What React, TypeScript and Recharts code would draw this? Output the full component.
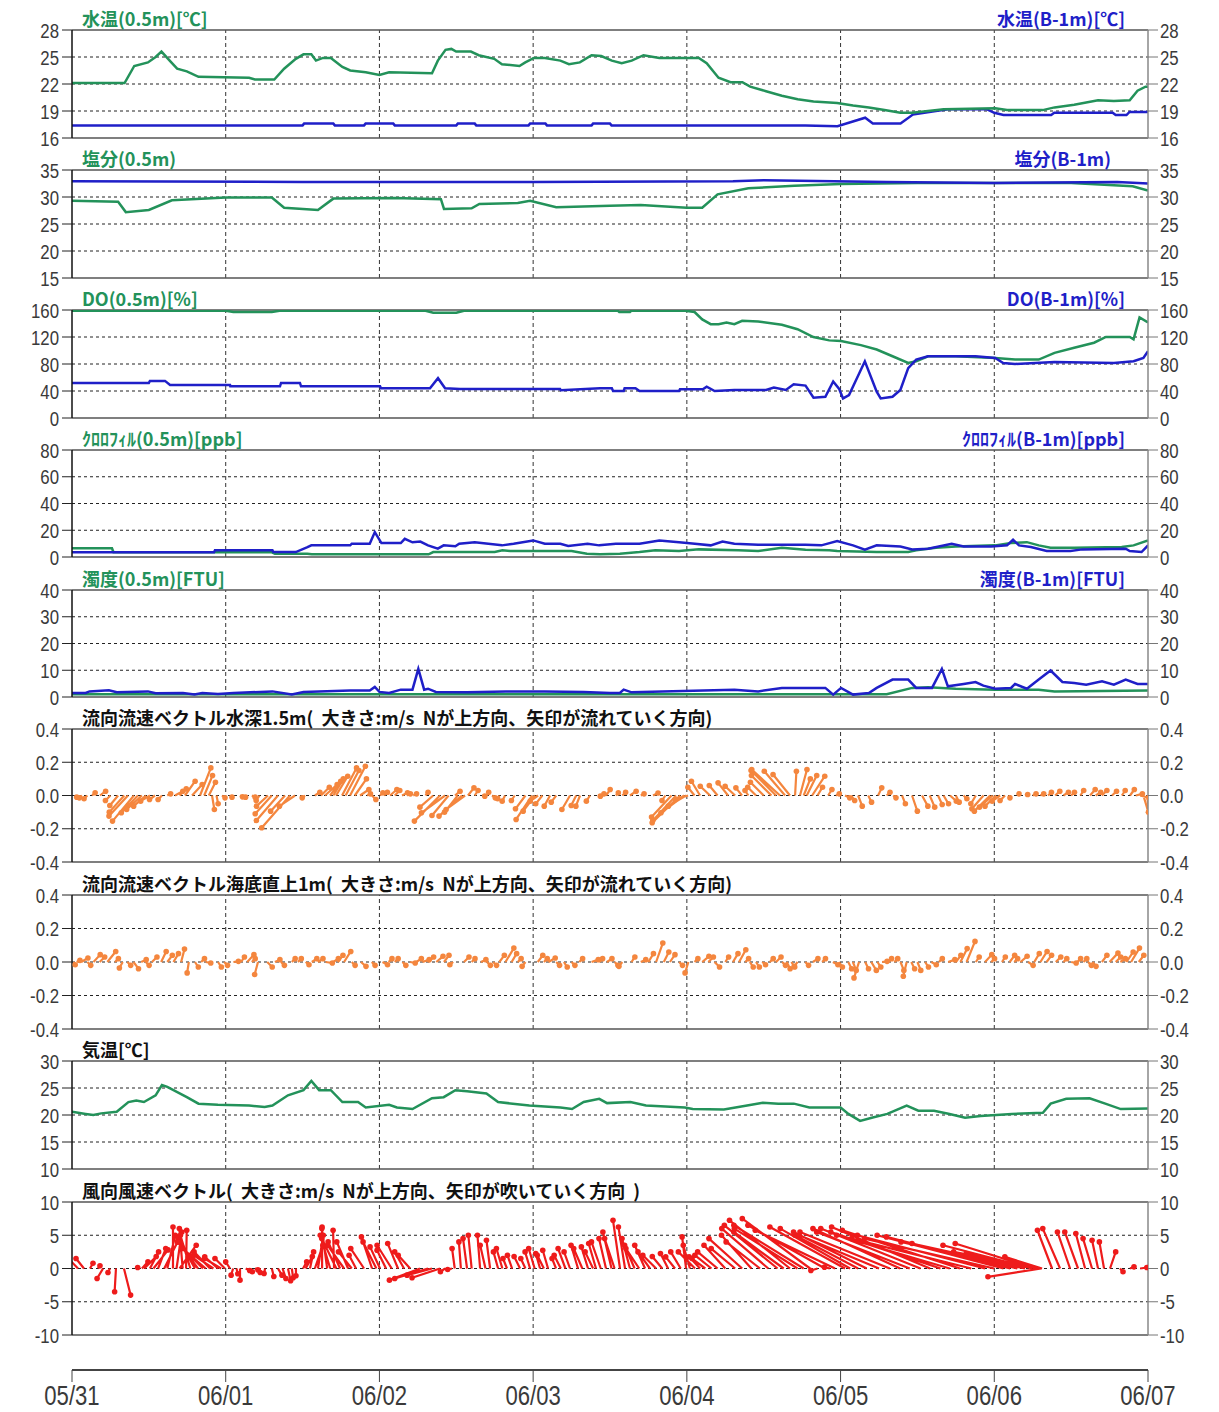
import React from "react";
import { ComposedChart, Line, XAxis, YAxis, ReferenceLine } from "recharts";

type Pt = [number, number]; // [day since 05/31 00:00, value]
type Arrow = [number, number, number]; // [day, u (east), v (north)]

const DAY_TICKS = [0, 1, 2, 3, 4, 5, 6, 7];
const DAY_LABELS = ["05/31", "06/01", "06/02", "06/03", "06/04", "06/05", "06/06", "06/07"];

// 水温
const TEMP_SURF: Pt[] = [
  [0, 22.1], [0.342, 22.1], [0.405, 24.0], [0.494, 24.4], [0.544, 25.0], [0.582, 25.6], [0.646, 24.4],
  [0.684, 23.7], [0.747, 23.4], [0.823, 22.8], [1.152, 22.7], [1.19, 22.5], [1.316, 22.5], [1.38, 23.7],
  [1.456, 24.8], [1.506, 25.3], [1.557, 25.3], [1.587, 24.6], [1.633, 24.9], [1.684, 24.9], [1.759, 23.9],
  [1.81, 23.5], [1.911, 23.3], [2.0, 23.0], [2.063, 23.3], [2.342, 23.2], [2.38, 24.6], [2.43, 25.8],
  [2.468, 25.9], [2.499, 25.6], [2.595, 25.6], [2.646, 25.2], [2.747, 24.8], [2.797, 24.2], [2.911, 24.0],
  [2.949, 24.4], [3.005, 24.9], [3.076, 24.9], [3.177, 24.6], [3.233, 24.2], [3.304, 24.4], [3.38, 25.2],
  [3.443, 25.1], [3.512, 24.6], [3.576, 24.3], [3.641, 24.6], [3.718, 25.2], [3.821, 24.9], [4.078, 24.9],
  [4.129, 24.3], [4.206, 22.7], [4.284, 22.2], [4.361, 22.2], [4.412, 21.7], [4.515, 21.2], [4.618, 20.7],
  [4.721, 20.3], [4.824, 20.05], [4.978, 19.9], [5.081, 19.6], [5.184, 19.4], [5.286, 19.1], [5.389, 18.8],
  [5.466, 18.8], [5.569, 19.0], [5.672, 19.2], [6.006, 19.3], [6.083, 19.1], [6.315, 19.1], [6.392, 19.4],
  [6.52, 19.7], [6.675, 20.2], [6.778, 20.1], [6.881, 20.2], [6.932, 21.25], [6.984, 21.7], [7.0, 21.7],
];
const TEMP_BOT: Pt[] = [
  [0, 17.4], [1.5, 17.4], [1.51, 17.6], [1.7, 17.6], [1.71, 17.4], [1.9, 17.4], [1.91, 17.6], [2.09, 17.6],
  [2.1, 17.4], [2.5, 17.4], [2.51, 17.6], [2.62, 17.6], [2.63, 17.4], [2.97, 17.4], [2.98, 17.6], [3.08, 17.6],
  [3.09, 17.4], [3.38, 17.4], [3.39, 17.6], [3.5, 17.6], [3.51, 17.4], [4.77, 17.4], [4.98, 17.3],
  [5.16, 18.25], [5.21, 17.6], [5.39, 17.6], [5.47, 18.6], [5.62, 19.0], [5.7, 19.2], [5.95, 19.2],
  [6.0, 18.8], [6.06, 18.55], [6.37, 18.55], [6.39, 18.8], [6.77, 18.8], [6.79, 18.55], [6.86, 18.55],
  [6.88, 18.9], [7.0, 18.9],
];

// 塩分
const SAL_SURF: Pt[] = [
  [0, 29.3], [0.3, 29.1], [0.35, 27.2], [0.5, 27.6], [0.65, 29.4], [1.0, 29.9], [1.3, 29.9], [1.38, 28.0],
  [1.6, 27.6], [1.7, 29.7], [2.1, 29.8], [2.4, 29.6], [2.42, 27.8], [2.6, 27.9], [2.65, 28.7], [2.9, 28.9],
  [2.98, 29.3], [3.15, 28.1], [3.5, 28.4], [3.7, 28.5], [4.0, 28.0], [4.1, 28.0], [4.2, 30.5], [4.4, 31.6],
  [4.7, 32.1], [5.0, 32.4], [5.5, 32.6], [6.5, 32.6], [6.9, 32.0], [7.0, 31.2],
];
const SAL_BOT: Pt[] = [
  [0, 32.9], [1.5, 32.8], [3.0, 32.8], [4.3, 32.9], [4.5, 33.1], [5.3, 32.8], [6.0, 32.6], [6.8, 32.8], [7.0, 32.5],
];

// DO
const DO_SURF: Pt[] = [
  [0, 159], [1.0, 159], [1.05, 157], [1.3, 157], [1.35, 159], [2.3, 159], [2.35, 156], [2.5, 156], [2.55, 159],
  [3.55, 159], [3.56, 157], [3.63, 157], [3.64, 159], [3.99, 159], [4.05, 157], [4.1, 146], [4.155, 139],
  [4.206, 139], [4.258, 141.5], [4.309, 139], [4.36, 144], [4.464, 143], [4.618, 138], [4.72, 131.5],
  [4.823, 120], [4.926, 115], [5.003, 114], [5.132, 108], [5.235, 101.5], [5.338, 91.5], [5.44, 81.5],
  [5.492, 84], [5.569, 91.5], [5.749, 91.5], [6.006, 89], [6.135, 86.5], [6.289, 86.5], [6.392, 96.5],
  [6.52, 104], [6.649, 111.5], [6.726, 120], [6.881, 120], [6.906, 116.5], [6.945, 149], [7.0, 141.5],
];
const DO_BOT: Pt[] = [
  [0, 52], [0.5, 52], [0.507, 55], [0.605, 55], [0.638, 49], [1.028, 49], [1.03, 47], [1.353, 47], [1.36, 52],
  [1.483, 52], [1.49, 47], [2.004, 47], [2.01, 44], [2.329, 44], [2.381, 59], [2.427, 44], [2.524, 43],
  [3.175, 43], [3.18, 41], [3.435, 44], [3.512, 44], [3.52, 40], [3.589, 40], [3.595, 44], [3.666, 44],
  [3.692, 40], [3.949, 40], [3.955, 42.5], [4.104, 42.5], [4.129, 46.5], [4.181, 40], [4.309, 41.5],
  [4.515, 41.5], [4.566, 45], [4.644, 41.5], [4.695, 50], [4.772, 48], [4.824, 30], [4.901, 31.5],
  [4.952, 54], [4.991, 43], [5.016, 29], [5.055, 34], [5.158, 84], [5.235, 39], [5.261, 29], [5.338, 31.5],
  [5.389, 41.5], [5.44, 74], [5.492, 86.5], [5.569, 91.5], [5.878, 91.5], [6.006, 89], [6.058, 81.5],
  [6.135, 80], [6.392, 83], [6.778, 81.5], [6.906, 84], [6.97, 89], [7.0, 99],
];

// クロロフィル
const CHL_SURF: Pt[] = [
  [0, 6.5], [0.26, 6.5], [0.27, 3.5], [1.3, 3.5], [1.32, 2.5], [1.53, 2.5], [1.56, 2.0], [2.32, 2.0],
  [2.35, 3.7], [2.75, 3.7], [2.8, 5.0], [2.85, 4.5], [3.25, 4.5], [3.35, 2.5], [3.435, 2.0], [3.564, 2.5],
  [3.692, 3.7], [3.795, 5.0], [3.949, 4.5], [4.078, 5.7], [4.335, 5.0], [4.464, 4.5], [4.618, 6.9],
  [4.772, 5.4], [4.926, 5.0], [4.978, 4.5], [5.235, 3.7], [5.44, 3.7], [5.492, 5.0], [5.621, 6.9],
  [5.749, 7.9], [6.006, 8.7], [6.109, 10.4], [6.212, 11.1], [6.289, 8.7], [6.366, 6.9], [6.52, 6.9],
  [6.829, 7.4], [6.906, 8.7], [7.0, 12.4],
];
const CHL_BOT: Pt[] = [
  [0, 3.5], [0.924, 3.5], [0.93, 5.0], [1.304, 5.0], [1.31, 3.7], [1.456, 3.7], [1.532, 7.4], [1.557, 8.7],
  [1.81, 8.7], [1.82, 9.9], [1.937, 9.9], [1.97, 18.6], [2.013, 10.4], [2.139, 10.4], [2.165, 13.6],
  [2.215, 11.0], [2.266, 11.5], [2.316, 8.7], [2.38, 6.2], [2.418, 8.7], [2.494, 8.0], [2.519, 9.9],
  [2.62, 11.0], [2.797, 8.7], [2.873, 9.9], [3.0, 12.4], [3.076, 9.9], [3.177, 9.9], [3.228, 8.2],
  [3.354, 9.9], [3.43, 8.7], [3.538, 9.9], [3.692, 9.9], [3.821, 12.4], [3.949, 11.1], [4.052, 9.9],
  [4.155, 8.7], [4.232, 11.6], [4.309, 9.9], [4.464, 9.2], [4.772, 9.2], [4.875, 8.7], [4.978, 11.9],
  [5.081, 8.7], [5.158, 5.4], [5.235, 8.7], [5.389, 7.9], [5.466, 5.7], [5.569, 6.2], [5.723, 9.9],
  [5.801, 7.9], [5.981, 7.9], [6.083, 8.7], [6.122, 12.9], [6.161, 8.7], [6.238, 7.4], [6.341, 4.5],
  [6.495, 4.5], [6.572, 5.7], [6.855, 6.2], [6.881, 4.5], [6.958, 3.7], [7.0, 8.7],
];

// 濁度
const TURB_SURF: Pt[] = [
  [0, 1.0], [5.3, 1.0], [5.466, 3.4], [5.569, 3.6], [5.749, 3.1], [6.006, 2.75], [6.289, 2.75], [6.392, 2.1], [7.0, 2.4],
];
const TURB_BOT: Pt[] = [
  [0, 1.5], [0.089, 1.5], [0.114, 2.1], [0.24, 2.5], [0.291, 1.75], [0.494, 2.1], [0.544, 1.4], [0.722, 1.5],
  [0.797, 0.9], [0.848, 1.5], [0.949, 1.1], [1.051, 1.5], [1.304, 2.1], [1.43, 0.9], [1.506, 1.9], [1.81, 2.4],
  [1.937, 2.4], [1.97, 3.75], [2.0, 1.9], [2.063, 1.5], [2.139, 2.75], [2.215, 2.75], [2.253, 10.5],
  [2.291, 2.75], [2.316, 3.1], [2.367, 1.9], [2.57, 1.75], [2.823, 2.1], [3.076, 2.1], [3.329, 1.9],
  [3.5, 1.5], [3.564, 1.5], [3.589, 2.75], [3.641, 1.75], [4.309, 2.75], [4.464, 2.1], [4.618, 3.4],
  [4.901, 3.4], [4.952, 0.9], [5.003, 3.4], [5.081, 0.9], [5.184, 1.5], [5.235, 3.4], [5.338, 6.5],
  [5.44, 6.5], [5.492, 3.4], [5.595, 3.4], [5.659, 10.5], [5.698, 4.0], [5.801, 4.9], [5.878, 5.6],
  [5.929, 4.25], [6.006, 3.1], [6.109, 3.4], [6.135, 4.9], [6.212, 3.1], [6.289, 6.5], [6.366, 9.9],
  [6.443, 5.6], [6.52, 5.25], [6.598, 4.6], [6.701, 5.9], [6.778, 4.6], [6.855, 6.5], [6.932, 4.9], [7.0, 4.9],
];

// 流向流速 水深1.5m [day, u m/s, v m/s]
const CUR_MID: Arrow[] = [
  [0.02, 0.01, -0.01], [0.065, -0.016, -0.014], [0.1, -0.02, -0.02], [0.13, 0.019, 0.016], [0.182, 0.034, 0.026],
  [0.25, -0.03, -0.03], [0.3, -0.05, -0.06], [0.34, -0.09, -0.1], [0.364, -0.114, -0.124],
  [0.403, -0.129, -0.154], [0.429, -0.1, -0.104], [0.455, -0.092, -0.084], [0.481, -0.074, -0.064],
  [0.507, -0.056, -0.034], [0.54, -0.033, -0.024], [0.585, -0.023, -0.024], [0.62, 0.02, 0.01], [0.67, 0.047, 0.026],
  [0.7, 0.04, 0.04], [0.735, 0.061, 0.086], [0.781, 0.061, 0.066], [0.833, 0.065, 0.166], [0.86, 0.05, 0.12],
  [0.89, 0.04, 0.08], [0.911, 0.014, -0.084], [0.94, 0.01, -0.05],
  [0.976, 0.018, -0.014], [1.03, 0.01, -0.01], [1.093, 0.015, -0.008], [1.14, -0.01, -0.01], [1.17, 0.02, -0.01],
  [1.22, -0.02, -0.03], [1.275, -0.069, -0.064], [1.3, -0.1, -0.11], [1.34, -0.13, -0.15],
  [1.386, -0.087, -0.094], [1.418, -0.17, -0.194], [1.451, -0.094, -0.064],
  [1.516, -0.017, -0.014], [1.58, 0.03, 0.02], [1.62, 0.05, 0.05], [1.646, 0.073, 0.066], [1.679, 0.064, 0.086],
  [1.7, 0.06, 0.1], [1.718, 0.07, 0.116], [1.757, 0.087, 0.166], [1.78, 0.08, 0.15], [1.809, 0.092, 0.176],
  [1.84, 0.07, 0.1], [1.874, 0.053, 0.036], [1.92, 0.02, 0.01], [1.952, 0.023, -0.024],
  [2.004, 0.017, 0.016], [2.03, 0.02, 0.02], [2.069, 0.041, 0.036], [2.1, 0.03, 0.03], [2.147, 0.033, 0.016],
  [2.18, 0.02, 0.01], [2.22, 0.02, 0.01], [2.3, 0.015, 0.02], [2.35, -0.08, -0.07],
  [2.394, -0.154, -0.154], [2.427, -0.142, -0.104], [2.45, -0.1, -0.12], [2.492, 0.03, 0.026], [2.51, -0.08, -0.1],
  [2.537, -0.138, -0.124], [2.557, -0.114, -0.084], [2.576, 0.036, 0.046], [2.62, 0.02, 0.03],
  [2.668, 0.016, -0.004], [2.7, 0.01, 0.02], [2.733, 0.019, -0.014], [2.78, -0.01, -0.02],
  [2.817, -0.017, -0.034], [2.88, -0.02, -0.03], [2.95, -0.06, -0.08], [2.993, -0.096, -0.144],
  [3.012, -0.071, -0.094], [3.032, -0.047, -0.034], [3.06, -0.04, -0.05],
  [3.11, -0.035, -0.064], [3.15, -0.03, -0.04], [3.24, -0.049, -0.084], [3.28, -0.03, -0.06],
  [3.305, -0.025, -0.064], [3.37, -0.022, -0.034], [3.422, 0.014, -0.004], [3.45, 0.01, 0.01],
  [3.474, 0.025, 0.036], [3.539, 0.014, 0.016], [3.58, 0.02, 0.02], [3.63, 0.037, 0.026],
  [3.7, 0.02, 0.01], [3.78, 0.03, 0.015], [3.86, -0.02, -0.03], [3.9, -0.12, -0.13], [3.93, -0.14, -0.15],
  [3.956, -0.168, -0.164], [3.982, -0.139, -0.104], [3.995, -0.107, -0.064], [4.008, -0.076, -0.024],
  [4.05, -0.04, 0.05], [4.086, -0.052, 0.086], [4.151, -0.059, 0.056], [4.2, -0.05, 0.06],
  [4.268, -0.06, 0.076], [4.314, -0.06, 0.056], [4.359, -0.037, 0.046], [4.4, -0.02, 0.03],
  [4.45, -0.05, 0.05], [4.5, -0.08, 0.08], [4.55, -0.12, 0.12], [4.58, -0.15, 0.15],
  [4.606, -0.17, 0.156], [4.639, -0.125, 0.146], [4.671, -0.102, 0.126], [4.704, 0.008, 0.146],
  [4.736, 0.042, 0.156], [4.76, 0.04, 0.1], [4.78, 0.06, 0.12], [4.815, 0.076, 0.116], [4.85, 0.03, 0.05],
  [4.919, 0.023, 0.036], [4.97, 0.02, 0.01], [5.029, 0.028, -0.014], [5.07, 0.02, -0.03],
  [5.114, 0.025, -0.064], [5.18, 0.02, -0.04], [5.244, 0.022, 0.046], [5.3, 0.02, 0.02], [5.342, 0.017, -0.014],
  [5.4, 0.02, -0.05], [5.465, 0.032, -0.094], [5.53, 0.035, -0.064], [5.58, 0.03, -0.07],
  [5.634, 0.025, -0.054], [5.67, 0.03, -0.05], [5.712, 0.038, -0.034], [5.75, 0.02, -0.04], [5.8, 0.02, -0.02],
  [5.88, -0.03, -0.05], [5.93, -0.07, -0.08], [5.973, -0.095, -0.094], [5.99, -0.08, -0.07],
  [6.012, -0.067, -0.064], [6.038, -0.048, -0.034], [6.07, -0.03, -0.03],
  [6.103, -0.001, -0.014], [6.15, 0.01, 0.01], [6.2, 0.016, 0.006], [6.25, 0.02, 0.01], [6.3, 0.02, 0.01],
  [6.35, 0.02, 0.02], [6.396, 0.028, 0.026], [6.45, 0.03, 0.02], [6.5, 0.02, 0.02], [6.56, 0.02, 0.03],
  [6.623, 0.031, 0.036], [6.66, 0.03, 0.02], [6.7, 0.03, 0.03], [6.766, 0.027, 0.026], [6.83, 0.02, 0.03],
  [6.883, 0.026, 0.036], [6.92, 0.04, 0.01], [6.949, 0.052, -0.014], [6.97, 0.03, -0.1], [6.994, 0.027, -0.194],
];

// 流向流速 海底直上1m
const CUR_BED: Arrow[] = [
  [0.01, 0.01, -0.016], [0.03, 0.02, 0.01], [0.06, 0.04, 0.024], [0.1, 0.02, -0.02], [0.14, 0.04, 0.044],
  [0.18, 0.03, 0.03], [0.23, 0.05, 0.063], [0.28, 0.02, 0.02], [0.33, -0.02, -0.036], [0.36, 0.02, -0.02],
  [0.4, 0.03, -0.04], [0.45, 0.03, 0.014], [0.48, 0.02, -0.02], [0.52, 0.03, 0.03], [0.58, 0.03, 0.063],
  [0.62, 0.03, 0.04], [0.66, 0.03, 0.05], [0.71, 0.02, 0.077], [0.76, -0.01, -0.065], [0.8, 0.02, -0.03],
  [0.84, 0.02, 0.02], [0.87, 0.03, -0.006], [0.95, 0.02, -0.03], [0.99, 0.02, -0.02], [1.05, 0.03, 0.004],
  [1.1, 0.02, 0.03], [1.14, 0.04, 0.044], [1.17, 0.02, 0.02], [1.21, -0.02, -0.075], [1.27, 0.03, -0.03],
  [1.32, 0.03, 0.014], [1.36, 0.02, -0.02], [1.43, 0.02, 0.02], [1.47, 0.02, 0.02], [1.52, 0.02, -0.016],
  [1.56, 0.03, 0.02], [1.6, 0.03, 0.02], [1.65, 0.04, -0.006], [1.7, 0.03, 0.02], [1.73, 0.03, 0.04],
  [1.77, 0.04, 0.063], [1.82, 0.02, -0.02], [1.88, 0.03, -0.026], [1.95, 0.02, -0.02], [2.02, 0.03, -0.016],
  [2.06, 0.02, 0.02], [2.1, 0.02, 0.02], [2.15, 0.02, -0.02], [2.2, 0.03, -0.006], [2.24, 0.03, 0.02],
  [2.28, 0.04, 0.014], [2.32, 0.03, 0.03], [2.37, 0.04, 0.034], [2.42, 0.03, 0.04], [2.48, -0.02, -0.016],
  [2.55, 0.03, 0.03], [2.6, 0.02, 0.02], [2.66, 0.03, 0.014], [2.7, 0.02, -0.02], [2.74, 0.02, -0.02],
  [2.78, 0.03, 0.04], [2.82, 0.05, 0.083], [2.86, 0.03, 0.05], [2.9, 0.02, 0.02], [2.95, -0.02, -0.026],
  [3.03, 0.03, 0.04], [3.07, 0.02, 0.02], [3.1, 0.04, 0.024], [3.15, 0.02, -0.02], [3.2, 0.02, -0.03],
  [3.25, 0.02, -0.02], [3.3, 0.02, 0.02], [3.38, 0.04, 0.014], [3.43, 0.02, 0.02], [3.48, 0.03, 0.02],
  [3.53, 0.02, -0.02], [3.58, -0.02, -0.026], [3.64, 0.02, 0.03], [3.7, 0.03, 0.014], [3.75, 0.03, 0.05],
  [3.8, 0.04, 0.113], [3.85, 0.03, 0.06], [3.89, 0.03, 0.044], [3.95, 0.02, -0.02], [4.01, -0.02, -0.065],
  [4.05, 0.02, 0.02], [4.1, 0.04, 0.034], [4.14, 0.03, 0.03], [4.18, 0.03, -0.03], [4.25, 0.02, 0.03],
  [4.3, 0.03, 0.05], [4.34, 0.04, 0.073], [4.38, 0.02, 0.02], [4.41, 0.02, -0.03], [4.45, 0.02, -0.03],
  [4.49, 0.02, -0.016], [4.54, 0.02, 0.02], [4.58, 0.03, 0.03], [4.62, 0.02, -0.02], [4.65, 0.02, -0.04],
  [4.68, 0.02, -0.03], [4.72, -0.02, -0.026], [4.77, 0.02, -0.02], [4.82, 0.03, 0.02], [4.88, 0.02, 0.02],
  [4.95, 0.03, -0.016], [4.99, 0.02, -0.03], [5.05, 0.02, -0.04], [5.08, 0.02, -0.05], [5.12, -0.03, -0.095],
  [5.16, 0.02, -0.04], [5.2, 0.03, -0.05], [5.24, 0.02, -0.03], [5.27, 0.03, 0.004], [5.31, 0.02, 0.02],
  [5.35, 0.02, 0.02], [5.39, 0.02, -0.05], [5.43, -0.02, -0.085], [5.46, 0.02, -0.04], [5.5, 0.02, -0.05],
  [5.55, 0.02, -0.03], [5.59, 0.03, -0.016], [5.64, 0.02, 0.02], [5.7, 0.04, 0.014], [5.75, 0.03, 0.04],
  [5.78, 0.04, 0.08], [5.82, 0.05, 0.123], [5.88, 0.02, 0.03], [5.94, 0.04, 0.044], [5.98, 0.02, 0.02],
  [6.05, 0.02, 0.03], [6.1, 0.03, 0.04], [6.13, 0.02, 0.02], [6.17, 0.04, 0.034], [6.22, 0.03, -0.02],
  [6.26, 0.03, 0.05], [6.3, 0.04, 0.063], [6.34, 0.03, 0.04], [6.4, 0.03, 0.03], [6.45, 0.02, 0.02],
  [6.5, 0.03, -0.006], [6.54, 0.02, 0.02], [6.58, 0.02, 0.02], [6.61, 0.02, -0.02], [6.64, 0.02, -0.026],
  [6.7, 0.03, 0.04], [6.75, 0.05, 0.053], [6.79, 0.03, 0.03], [6.82, 0.03, 0.02], [6.86, 0.04, 0.06],
  [6.89, 0.05, 0.083], [6.94, 0.03, 0.04], [7.0, 0.03, -0.016],
];

// 気温
const AIR_TEMP: Pt[] = [
  [0, 20.6], [0.089, 20.2], [0.139, 20.0], [0.19, 20.3], [0.291, 20.6], [0.367, 22.4], [0.418, 22.7],
  [0.468, 22.4], [0.544, 23.65], [0.585, 25.55], [0.62, 25.2], [0.747, 23.3], [0.823, 22.1], [0.949, 21.9],
  [1.152, 21.75], [1.253, 21.5], [1.304, 21.75], [1.405, 23.65], [1.506, 24.6], [1.557, 26.3], [1.608, 24.6],
  [1.684, 24.6], [1.759, 22.4], [1.861, 22.4], [1.911, 21.4], [2.063, 21.9], [2.114, 21.4], [2.215, 21.1],
  [2.342, 23.1], [2.418, 23.3], [2.494, 24.6], [2.57, 24.4], [2.696, 24.0], [2.772, 22.4], [2.975, 21.75],
  [3.177, 21.4], [3.253, 21.1], [3.329, 22.4], [3.43, 23.0], [3.481, 22.2], [3.633, 22.4], [3.734, 21.75],
  [3.987, 21.4], [4.038, 21.1], [4.241, 21.0], [4.392, 21.75], [4.494, 22.25], [4.595, 22.1], [4.696, 22.1],
  [4.797, 21.4], [5.0, 21.4], [5.051, 20.2], [5.127, 18.9], [5.203, 19.5], [5.304, 20.2], [5.43, 21.75],
  [5.506, 20.8], [5.608, 20.8], [5.709, 20.2], [5.81, 19.5], [5.911, 19.8], [6.114, 20.2], [6.316, 20.4],
  [6.367, 22.1], [6.468, 23.0], [6.62, 23.1], [6.722, 22.1], [6.823, 21.1], [7.0, 21.2],
];

// 風向風速
const WIND: Arrow[] = [
  [0.039, -2.1, 2.2], [0.078, -1.2, 1.5], [0.117, 0.45, 0.8], [0.169, 0.3, 0.4], [0.202, -0.9, -1.5],
  [0.247, -0.3, -0.6], [0.286, -0.2, -3.5], [0.338, 1.0, -4.0], [0.423, 0.1, 0.15], [0.455, 0.9, 1.0],
  [0.47, 1.8, 1.8], [0.507, 1.3, 2.5], [0.53, 2.2, 2.8], [0.56, 1.15, 3.0], [0.6, 2.0, 4.0], [0.62, 1.2, 5.0],
  [0.657, 0, 6.25], [0.68, 0.8, 5.5], [0.7, 2.5, 3.5], [0.72, -0.5, 6.0], [0.742, 0.1, 5.75], [0.77, -1.5, 5.0],
  [0.8, -2.55, 4.5], [0.82, -3.0, 4.0], [0.852, -3.2, 3.25], [0.87, -3.5, 3.0], [0.898, -2.4, 2.5],
  [0.92, -3.0, 2.0], [0.95, -2.0, 1.75], [0.97, -2.5, 1.5], [0.995, -1.5, 1.5],
  [1.028, -0.65, 1.0], [1.048, -0.3, -1.0], [1.07, 0.2, -0.8], [1.093, 0, -1.75], [1.13, 0.6, -0.3],
  [1.16, 0.3, -0.5], [1.19, 0.45, -0.2], [1.22, 0.1, -0.6], [1.256, -0.15, -0.75], [1.3, 0.3, -1.2],
  [1.34, 0.6, -1.0], [1.37, 0.5, -1.5], [1.405, 0.4, -1.85], [1.43, 0.2, -1.4], [1.457, 0, -1.1],
  [1.503, 0.55, 1.0], [1.52, 1.0, 1.8], [1.548, 0.55, 2.5], [1.58, 1.2, 3.5], [1.6, 0.8, 5.0],
  [1.627, 0, 6.25], [1.66, -0.8, 6.0], [1.68, -1.5, 5.0], [1.705, -0.15, 5.75], [1.72, -2.2, 4.5],
  [1.744, -1.8, 4.0], [1.77, -2.5, 3.5], [1.796, -1.7, 4.0], [1.82, -2.0, 2.5], [1.848, -1.05, 2.0],
  [1.9, -2.0, 3.0], [1.952, -1.6, 4.75], [1.98, -2.0, 4.0], [2.004, -1.5, 3.25], [2.043, -1.35, 2.75],
  [2.08, -2.2, 3.5], [2.121, -1.55, 3.75], [2.16, -1.4, 2.5], [2.2, -1.8, 2.0],
  [2.264, -4.6, -1.75], [2.316, -5.0, -1.5], [2.342, -3.75, -1.0], [2.394, -4.2, -1.4],
  [2.427, -0.7, -0.5], [2.472, -0.65, -0.15], [2.49, -0.4, 3.0], [2.53, -0.3, 4.0], [2.57, -0.6, 4.5],
  [2.6, -0.5, 5.0], [2.655, -0.4, 5.0], [2.69, -0.8, 3.5], [2.72, -0.55, 4.25], [2.772, -0.7, 2.5],
  [2.8, -0.9, 3.0], [2.83, -0.6, 1.5], [2.863, -0.7, 2.0], [2.915, -0.9, 1.8], [2.95, -0.7, 1.5],
  [2.98, -0.75, 2.5], [3.01, -0.9, 3.0], [3.045, -0.65, 2.25], [3.07, -1.0, 2.0], [3.097, -0.8, 2.75],
  [3.149, -0.6, 1.5], [3.18, -1.0, 2.0], [3.21, -1.1, 3.0], [3.24, -0.9, 2.5], [3.292, -1.05, 3.5],
  [3.32, -1.3, 3.0], [3.357, -1.0, 3.25], [3.39, -1.2, 2.5], [3.409, -1.1, 3.75], [3.44, -1.4, 4.0],
  [3.474, -1.05, 4.5], [3.51, -1.3, 5.5], [3.53, -1.5, 4.5], [3.565, -1.05, 7.25], [3.598, -1.0, 6.25],
  [3.63, -1.2, 4.5], [3.66, -1.5, 3.5], [3.69, -2.0, 3.0], [3.728, -1.55, 3.5], [3.76, -1.8, 2.5],
  [3.8, -2.0, 2.0], [3.84, -1.5, 1.8], [3.878, -1.15, 2.25], [3.923, -1.4, 1.75], [3.96, -1.5, 2.5],
  [3.995, -0.6, 4.75], [4.02, -1.0, 3.5], [4.053, -2.5, 2.5], [4.086, -1.65, 1.75], [4.12, -2.0, 1.5],
  [4.16, -2.5, 2.0], [4.2, -3.0, 2.5], [4.25, -3.2, 3.5], [4.314, -3.6, 3.0], [4.36, -5.0, 4.5],
  [4.42, -4.5, 5.0], [4.476, -5.1, 4.0], [4.53, -7.0, 6.0], [4.59, -8.0, 6.5], [4.63, -7.5, 5.5],
  [4.671, -9.1, 7.25], [4.72, -9.5, 6.0], [4.76, -10.5, 6.5], [4.802, -10.2, 7.5], [4.85, -1.0, -0.3],
  [4.899, -11.6, 6.5], [4.93, -0.8, 0.2], [4.964, -12.0, 5.75], [5.029, -11.3, 6.25], [5.062, -10.5, 6.0],
  [5.114, -9.5, 5.0], [5.17, -11.0, 5.5], [5.25, -12.0, 5.0], [5.32, -13.5, 5.5], [5.387, -13.1, 6.0],
  [5.45, -14.0, 5.5], [5.52, -15.0, 6.0], [5.582, -14.8, 6.25], [5.65, -16.5, 5.5], [5.71, -17.0, 5.0],
  [5.777, -17.7, 5.75], [5.85, -18.0, 4.5], [5.94, -19.2, 5.0], [6.0, -19.5, 4.5], [6.06, -19.0, 5.0],
  [6.103, -18.6, 4.75], [6.15, -17.5, 4.0], [6.2, -17.0, 3.75], [6.246, -13.4, 3.5],
  [6.265, -12.0, 3.75], [6.285, -12.7, 2.5], [6.298, -11.1, 2.25], [6.305, -8.0, -1.25], [6.311, -5.6, 1.75],
  [6.376, -2.2, 5.75], [6.428, -2.6, 6.0], [6.493, -1.9, 5.5], [6.545, -2.0, 5.5], [6.591, -1.4, 5.25],
  [6.636, -1.35, 4.5], [6.675, -0.9, 4.25], [6.714, -0.7, 4.0], [6.753, 0.85, 2.5], [6.818, 0.45, -0.5],
  [6.883, 0.6, 0.25], [6.949, 1.0, 0.15], [6.994, 1.3, -0.5],
];

const W = 1219;
const LEFT = 72;
const RIGHT = 71;
const PLOT_W = W - LEFT - RIGHT;
const GREEN = "#23925a";
const BLUE = "#1f1fc8";
const ORANGE = "#f4863e";
const RED = "#ee1b1b";
const NUM_FONT = "'Liberation Sans', Arial, sans-serif";
const JP_FONT = "'Noto Sans CJK JP', 'Noto Sans CJK SC', sans-serif";

const toRows = (pts: Pt[]) => pts.map(([x, y]) => ({ x, y }));

function arrowRows(arrows: Arrow[], daysPerUnit: number) {
  return arrows.flatMap(([t, u, v]) => [
    { x: t, y: 0 },
    { x: t + u * daysPerUnit, y: v, tip: true },
    { x: t, y: null },
  ]);
}

interface PanelCfg {
  top: number;
  h: number;
  min: number;
  max: number;
  ticks: number[];
  fmt?: (v: number) => string;
  lines?: { pts: Pt[]; color: string }[];
  arrows?: Arrow[];
  arrowColor?: string;
  titleL: string;
  titleLColor: string;
  titleR?: string;
  titleRRight?: number;
}

const PANELS: PanelCfg[] = [
  {
    top: 30, h: 108, min: 16, max: 28, ticks: [16, 19, 22, 25, 28],
    lines: [{ pts: TEMP_BOT, color: BLUE }, { pts: TEMP_SURF, color: GREEN }],
    titleL: "水温(0.5m)[℃]", titleLColor: GREEN, titleR: "水温(B-1m)[℃]",
  },
  {
    top: 170, h: 108, min: 15, max: 35, ticks: [15, 20, 25, 30, 35],
    lines: [{ pts: SAL_SURF, color: GREEN }, { pts: SAL_BOT, color: BLUE }],
    titleL: "塩分(0.5m)", titleLColor: GREEN, titleR: "塩分(B-1m)", titleRRight: 108,
  },
  {
    top: 310, h: 108, min: 0, max: 160, ticks: [0, 40, 80, 120, 160],
    lines: [{ pts: DO_SURF, color: GREEN }, { pts: DO_BOT, color: BLUE }],
    titleL: "DO(0.5m)[%]", titleLColor: GREEN, titleR: "DO(B-1m)[%]",
  },
  {
    top: 450, h: 107, min: 0, max: 80, ticks: [0, 20, 40, 60, 80],
    lines: [{ pts: CHL_SURF, color: GREEN }, { pts: CHL_BOT, color: BLUE }],
    titleL: "ｸﾛﾛﾌｨﾙ(0.5m)[ppb]", titleLColor: GREEN, titleR: "ｸﾛﾛﾌｨﾙ(B-1m)[ppb]",
  },
  {
    top: 590, h: 107, min: 0, max: 40, ticks: [0, 10, 20, 30, 40],
    lines: [{ pts: TURB_SURF, color: GREEN }, { pts: TURB_BOT, color: BLUE }],
    titleL: "濁度(0.5m)[FTU]", titleLColor: GREEN, titleR: "濁度(B-1m)[FTU]",
  },
  {
    top: 729, h: 133, min: -0.4, max: 0.4, ticks: [-0.4, -0.2, 0, 0.2, 0.4], fmt: (v) => v.toFixed(1),
    arrows: CUR_MID, arrowColor: ORANGE,
    titleL: "流向流速ベクトル水深1.5m(  大きさ:m/s  Nが上方向、矢印が流れていく方向)", titleLColor: "#111",
  },
  {
    top: 895, h: 134, min: -0.4, max: 0.4, ticks: [-0.4, -0.2, 0, 0.2, 0.4], fmt: (v) => v.toFixed(1),
    arrows: CUR_BED, arrowColor: ORANGE,
    titleL: "流向流速ベクトル海底直上1m(  大きさ:m/s  Nが上方向、矢印が流れていく方向)", titleLColor: "#111",
  },
  {
    top: 1061, h: 108, min: 10, max: 30, ticks: [10, 15, 20, 25, 30],
    lines: [{ pts: AIR_TEMP, color: GREEN }],
    titleL: "気温[℃]", titleLColor: "#111",
  },
  {
    top: 1202, h: 133, min: -10, max: 10, ticks: [-10, -5, 0, 5, 10],
    arrows: WIND, arrowColor: RED,
    titleL: "風向風速ベクトル(  大きさ:m/s  Nが上方向、矢印が吹いていく方向  )", titleLColor: "#111",
  },
];

function NumTick({ x, y, payload, fmt, anchor }: any) {
  return (
    <g transform={`translate(${x},${y})`}>
      <text transform="scale(0.8,1)" textAnchor={anchor} dy={7.5} fontSize={21} fontFamily={NUM_FONT} fill="#3a3a3a">
        {fmt(payload.value)}
      </text>
    </g>
  );
}

function DateTick({ x, y, payload }: any) {
  return (
    <g transform={`translate(${x},${y})`}>
      <text transform="scale(0.82,1)" textAnchor="middle" dy={20} fontSize={27} fontFamily={NUM_FONT} fill="#3a3a3a">
        {DAY_LABELS[payload.value]}
      </text>
    </g>
  );
}

function Panel({ cfg }: { cfg: PanelCfg }) {
  const { top, h, min, max, ticks } = cfg;
  const fmt = cfg.fmt ?? ((v: number) => String(v));
  const daysPerUnit = h / (max - min) / (PLOT_W / 7);
  const inner = ticks.filter((v) => v !== min && v !== max);
  return (
    <>
      <div style={{ position: "absolute", top: top - 12, left: 0 }}>
        <ComposedChart width={W} height={h + 24} margin={{ top: 12, right: 0, bottom: 12, left: 0 }}>
          <XAxis type="number" dataKey="x" domain={[0, 7]} allowDataOverflow hide />
          <YAxis
            yAxisId="l"
            width={LEFT}
            type="number"
            domain={[min, max]}
            ticks={ticks}
            interval={0}
            allowDataOverflow
            tickSize={10}
            tickMargin={3}
            tickLine={{ stroke: "#222" }}
            axisLine={{ stroke: "#111", strokeWidth: 1.5 }}
            tick={(p: any) => <NumTick {...p} fmt={fmt} anchor="end" />}
          />
          <YAxis
            yAxisId="r"
            orientation="right"
            width={RIGHT}
            type="number"
            domain={[min, max]}
            ticks={ticks}
            interval={0}
            allowDataOverflow
            tickSize={10}
            tickMargin={2}
            tickLine={{ stroke: "#777" }}
            axisLine={{ stroke: "#888", strokeWidth: 1.5 }}
            tick={(p: any) => <NumTick {...p} fmt={fmt} anchor="start" />}
          />
          {[1, 2, 3, 4, 5, 6].map((d) => (
            <ReferenceLine key={`vx${d}`} yAxisId="l" x={d} stroke="#333" strokeDasharray="4 3" />
          ))}
          {inner.map((v) => (
            <ReferenceLine key={`hy${v}`} yAxisId="l" y={v} stroke="#222" strokeDasharray="3 3" />
          ))}
          <ReferenceLine yAxisId="l" y={max} stroke="#555" strokeWidth={1.5} />
          <ReferenceLine yAxisId="l" y={min} stroke="#555" strokeWidth={1.5} />
          {(cfg.lines ?? []).map((s, i) => (
            <Line
              key={`s${i}`}
              yAxisId="l"
              data={toRows(s.pts)}
              dataKey="y"
              type="linear"
              stroke={s.color}
              strokeWidth={2.5}
              dot={false}
              activeDot={false}
              isAnimationActive={false}
            />
          ))}
          {cfg.arrows && (
            <Line
              yAxisId="l"
              data={arrowRows(cfg.arrows, daysPerUnit)}
              dataKey="y"
              type="linear"
              stroke={cfg.arrowColor}
              strokeWidth={2.2}
              connectNulls={false}
              activeDot={false}
              isAnimationActive={false}
              dot={(p: any) =>
                p.payload && p.payload.tip && p.cy != null ? (
                  <circle key={`d${p.index}`} cx={p.cx} cy={p.cy} r={2.8} fill={cfg.arrowColor} />
                ) : (
                  <g key={`d${p.index}`} />
                )
              }
            />
          )}
        </ComposedChart>
      </div>
      <div
        style={{
          position: "absolute",
          left: 82,
          top: top - 23,
          fontFamily: JP_FONT,
          fontSize: 18,
          lineHeight: "22px",
          fontWeight: 700,
          color: cfg.titleLColor,
          whiteSpace: "pre",
        }}
      >
        {cfg.titleL}
      </div>
      {cfg.titleR && (
        <div
          style={{
            position: "absolute",
            right: cfg.titleRRight ?? 94,
            top: top - 23,
            fontFamily: JP_FONT,
            fontSize: 18,
            lineHeight: "22px",
            fontWeight: 700,
            color: BLUE,
            whiteSpace: "pre",
            textAlign: "right",
          }}
        >
          {cfg.titleR}
        </div>
      )}
    </>
  );
}

export default function App() {
  return (
    <div style={{ position: "absolute", top: 0, left: 0, width: W, height: 1412, background: "#fff", overflow: "hidden" }}>
      {PANELS.map((cfg, i) => (
        <Panel key={i} cfg={cfg} />
      ))}
      <div style={{ position: "absolute", top: 1350, left: 0 }}>
        <ComposedChart width={W} height={62} margin={{ top: 10, right: RIGHT, bottom: 0, left: LEFT }} data={[{ x: 0 }, { x: 7 }]}>
          <XAxis
            type="number"
            dataKey="x"
            domain={[0, 7]}
            ticks={DAY_TICKS}
            interval={0}
            height={42}
            tickSize={12}
            tickMargin={3}
            tickLine={{ stroke: "#444" }}
            axisLine={{ stroke: "#444", strokeWidth: 2 }}
            tick={(p: any) => <DateTick {...p} />}
          />
          <YAxis hide domain={[0, 1]} />
        </ComposedChart>
      </div>
    </div>
  );
}
